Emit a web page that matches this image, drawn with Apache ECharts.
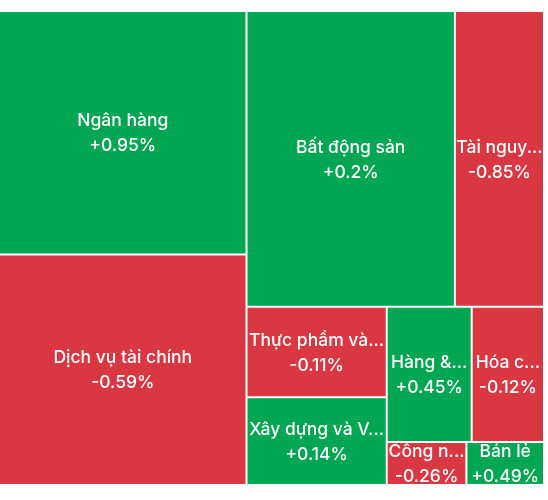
<!DOCTYPE html>
<html>
<head>
<meta charset="utf-8">
<script src="https://cdn.jsdelivr.net/npm/echarts@6/dist/echarts.min.js"></script>
<style>
html,body{margin:0;padding:0;background:#fff;}
#c{width:548px;height:500px;}
</style>
</head>
<body>
<div id="c"></div>
<script>
const sectors = ['Ngân hàng', 'Dịch vụ tài chính', 'Bất động sản', 'Tài nguyên cơ bản', 'Thực phẩm và đồ uống', 'Xây dựng và Vật liệu', 'Hàng & Dịch vụ Công nghiệp', 'Hóa chất', 'Công nghệ Thông tin', 'Bán lẻ'];
const weights = [60315, 57145, 61706, 26384, 12697, 12325, 11492, 9782, 3439, 3351];
const changes = [0.95, -0.59, 0.2, -0.85, -0.11, 0.14, 0.45, -0.12, -0.26, 0.49];

const upColor = '#00a651';
const downColor = '#d93843';
const FONT_SIZE = 17.5;
const FONT_WEIGHT = 500;
const FONT_FAMILY = 'Inter';

function buildData(shortNames) {
  return sectors.map((name, i) => ({
    name: name,
    value: weights[i],
    change: changes[i],
    short: shortNames ? shortNames[i] : name,
    itemStyle: { color: changes[i] >= 0 ? upColor : downColor }
  }));
}

const chart = echarts.init(document.getElementById('c'), null, { renderer: 'canvas' });
const option = {
  animation: false,
  series: [{
    type: 'treemap',
    left: 0,
    top: 12,
    width: 543,
    height: 472,
    sort: false,
    squareRatio: 1.556,
    roam: false,
    nodeClick: false,
    breadcrumb: { show: false },
    itemStyle: { borderWidth: 0, gapWidth: 2, borderColor: '#fff' },
    label: {
      show: true,
      position: 'inside',
      align: 'center',
      verticalAlign: 'middle',
      offset: [0, 1],
      color: '#fff',
      fontFamily: FONT_FAMILY,
      fontWeight: FONT_WEIGHT,
      fontSize: FONT_SIZE,
      lineHeight: 25,
      padding: [-5, 0, -5, 0],
      overflow: 'none',
      formatter: function (p) {
        const c = p.data.change;
        return (p.data.short || p.name) + '\n' + (c > 0 ? '+' : '') + c + '%';
      }
    },
    data: buildData(null)
  }]
};
chart.setOption(option);

// Shorten names to fit the width of the cell the library laid out
function fitLabel(text, maxW, ctx) {
  if (ctx.measureText(text).width <= maxW) return text;
  for (let n = text.length - 1; n > 0; n--) {
    const t = text.slice(0, n).replace(/\s+$/, '') + '...';
    if (ctx.measureText(t).width <= maxW) return t;
  }
  return '...';
}
try {
  const ctx = document.createElement('canvas').getContext('2d');
  ctx.font = FONT_WEIGHT + ' ' + FONT_SIZE + 'px ' + FONT_FAMILY;
  const tree = chart.getModel().getSeriesByIndex(0).getData().tree;
  const shortNames = sectors.slice();
  tree.root.children.forEach(node => {
    const idx = sectors.indexOf(node.name);
    const lay = node.getLayout();
    if (idx >= 0 && lay) shortNames[idx] = fitLabel(sectors[idx], lay.width + 2.5, ctx);
  });
  chart.setOption({ series: [{ data: buildData(shortNames) }] });
} catch (e) {}
</script>
</body>
</html>
